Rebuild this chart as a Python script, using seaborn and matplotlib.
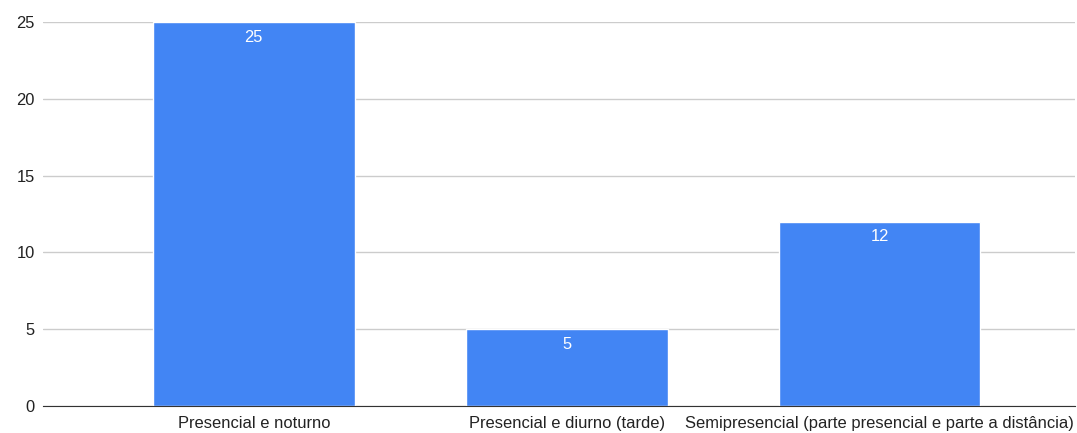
import matplotlib
matplotlib.use("Agg")
import matplotlib.pyplot as plt
import seaborn as sns
import pandas as pd

categories = ["Presencial e noturno", "Presencial e diurno (tarde)",
              "Semipresencial (parte presencial e parte a distância)"]
counts = [25, 5, 12]
yticks = [0, 5, 10, 15, 20, 25]

sns.set_style("white")
plt.rcParams['font.family'] = ['Liberation Sans', 'DejaVu Sans']

df = pd.DataFrame({"categoria": categories, "total": counts})

fig = plt.figure(figsize=(10.77, 4.33), dpi=100)
ax = fig.add_axes([0.0399, 0.0624, 0.9582, 0.8868])

sns.barplot(data=df, x="categoria", y="total", color="#4285F4",
            saturation=1, width=0.645, ax=ax, zorder=3)

for p, v in zip(ax.patches, counts):
    ax.text(p.get_x() + p.get_width() / 2, v - 0.5, str(v), ha="center",
            va="top", color="white", fontsize=11.9)

ax.set_ylim(0, 25)
ax.set_xlim(-0.674, 2.625)
ax.set_yticks(yticks)
ax.yaxis.grid(True, color="#cccccc", linewidth=1, zorder=0)
ax.set_xlabel("")
ax.set_ylabel("")
for s in ["top", "right", "left"]:
    ax.spines[s].set_visible(False)
ax.spines["bottom"].set_color("#333333")
ax.spines["bottom"].set_zorder(4)
ax.tick_params(axis="both", length=0, labelsize=11.9, labelcolor="#222222")
ax.tick_params(axis="y", pad=6)
ax.tick_params(axis="x", pad=7.5)

fig.savefig("out.png", dpi=100)
